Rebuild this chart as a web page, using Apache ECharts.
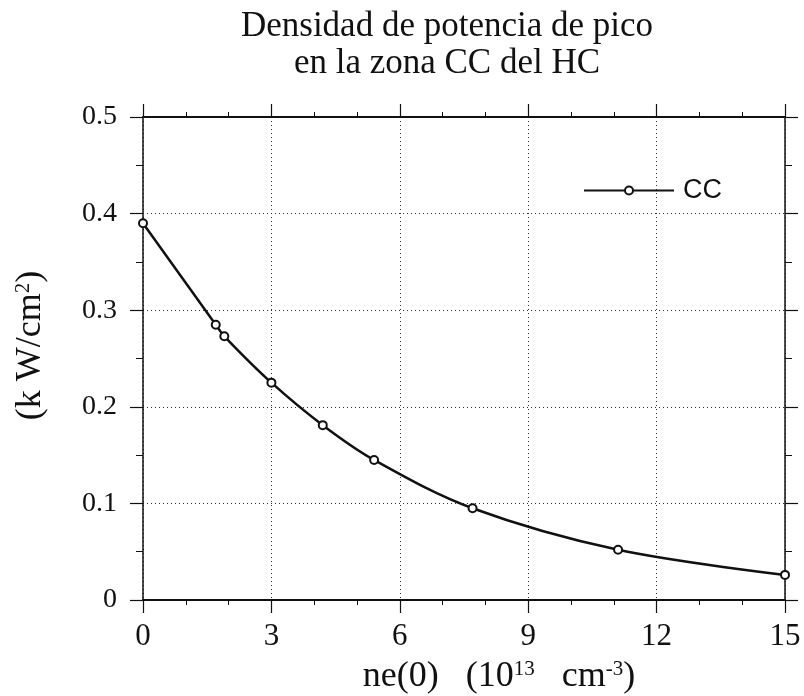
<!DOCTYPE html>
<html>
<head>
<meta charset="utf-8">
<script src="https://cdn.jsdelivr.net/npm/echarts@6/dist/echarts.min.js"></script>
<style>
  html, body { margin: 0; padding: 0; background: #fff; }
  #chart { width: 804px; height: 696px; }
</style>
</head>
<body>
<div id="chart"></div>
<script>
// densidad (x) y potencia de pico (y)
const neValues = [0, 1.7, 1.9, 3, 4.2, 5.4, 7.7, 11.1, 15];
const ccValues = [0.390, 0.285, 0.273, 0.225, 0.181, 0.145, 0.095, 0.052, 0.026];
const xTicks = [0, 3, 6, 9, 12, 15];
const yTicks = [0, 0.1, 0.2, 0.3, 0.4, 0.5];

const serif = 'Liberation Serif';
const ink = '#111';

const chart = echarts.init(document.getElementById('chart'));

const tickStyle = (len) => ({ show: true, inside: false, length: len, lineStyle: { color: ink, width: 1.2 } });
const gridLine = { show: true, lineStyle: { color: '#333', type: [1, 3], width: 1 } };
const supStyle = { fontFamily: serif, fontSize: 21, verticalAlign: 'top', lineHeight: 19, color: ink };

const option = {
  backgroundColor: '#fff',
  animation: false,
  title: {
    text: 'Densidad de potencia de pico\nen la zona CC del HC',
    left: 447,
    textAlign: 'center',
    top: 8,
    padding: 0,
    textStyle: { fontFamily: serif, fontSize: 35, fontWeight: 'normal', lineHeight: 37, color: ink }
  },
  legend: {
    data: ['CC'],
    left: 583,
    top: 177,
    padding: 0,
    itemWidth: 90,
    itemHeight: 10,
    textStyle: { fontFamily: 'Liberation Sans', fontSize: 27, color: ink, padding: [0, 0, 0, 4] }
  },
  grid: { left: 143, right: 19, top: 117, bottom: 96, outerBoundsMode: 'none' },
  xAxis: [
    {
      type: 'value',
      min: xTicks[0],
      max: xTicks[xTicks.length - 1],
      interval: 3,
      name: 'ne(0)   (10{sup|13}   cm{sup|-3})',
      nameLocation: 'middle',
      nameGap: 59,
      nameTextStyle: {
        fontFamily: serif, fontSize: 36, color: ink, padding: [0, 0, 0, 70],
        rich: { sup: supStyle }
      },
      axisLine: { show: true, onZero: false, lineStyle: { color: ink, width: 2 } },
      axisTick: tickStyle(13),
      minorTick: { show: true, splitNumber: 3, length: 5, lineStyle: { color: ink, width: 1 } },
      axisLabel: { fontFamily: serif, fontSize: 31, color: ink, margin: 21 },
      splitLine: gridLine
    },
    {
      type: 'value',
      position: 'top',
      min: xTicks[0],
      max: xTicks[xTicks.length - 1],
      interval: 3,
      axisLine: { show: true, onZero: false, lineStyle: { color: ink, width: 2 } },
      axisTick: tickStyle(13),
      minorTick: { show: true, splitNumber: 3, length: 5, lineStyle: { color: ink, width: 1 } },
      axisLabel: { show: false },
      splitLine: { show: false }
    }
  ],
  yAxis: [
    {
      type: 'value',
      min: yTicks[0],
      max: yTicks[yTicks.length - 1],
      interval: 0.1,
      name: '(k W/cm{sup|2})',
      nameLocation: 'middle',
      nameRotate: 90,
      nameGap: 94,
      nameTextStyle: {
        fontFamily: serif, fontSize: 36, color: ink, padding: [0, 0, 0, 26],
        rich: { sup: supStyle }
      },
      axisLine: { show: true, onZero: false, lineStyle: { color: ink, width: 1.5 } },
      axisTick: tickStyle(13),
      minorTick: { show: true, splitNumber: 2, length: 7, lineStyle: { color: ink, width: 1 } },
      axisLabel: {
        fontFamily: serif, fontSize: 28, color: ink, margin: 26,
        formatter: (v) => (v === 0 ? '0' : v.toFixed(1))
      },
      splitLine: gridLine
    },
    {
      type: 'value',
      position: 'right',
      min: yTicks[0],
      max: yTicks[yTicks.length - 1],
      interval: 0.1,
      axisLine: { show: true, onZero: false, lineStyle: { color: ink, width: 1.5 } },
      axisTick: tickStyle(13),
      minorTick: { show: true, splitNumber: 2, length: 7, lineStyle: { color: ink, width: 1 } },
      axisLabel: { show: false },
      splitLine: { show: false }
    }
  ],
  series: [
    {
      name: 'CC',
      type: 'line',
      data: neValues.map((x, i) => [x, ccValues[i]]),
      smooth: 0.35,
      symbol: 'emptyCircle',
      symbolSize: 8,
      lineStyle: { color: ink, width: 2.5 },
      itemStyle: { color: ink, borderWidth: 1.2 }
    }
  ]
};

chart.setOption(option);
</script>
</body>
</html>
